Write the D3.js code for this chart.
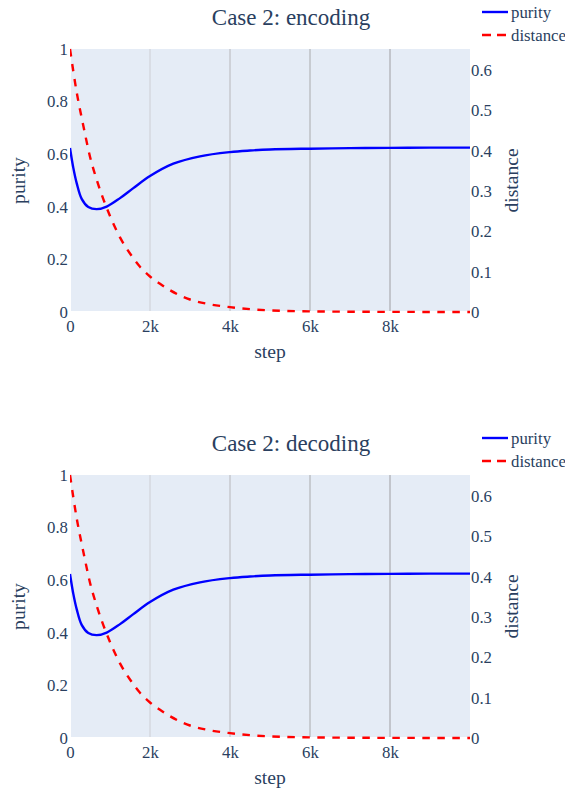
<!DOCTYPE html>
<html>
<head>
<meta charset="utf-8">
<script src="https://cdn.jsdelivr.net/npm/d3@7"></script>
<style>
  body { margin: 0; background: #fff; }
  text { font-family: "Liberation Serif", "DejaVu Serif", serif; fill: #2a3f5f; }
</style>
</head>
<body>
<div class="chart"></div>
<script>
// values
const purityStepsEnc = [0, 83, 167, 292, 458, 667, 917, 1250, 1583, 2000, 2583, 3250, 4000, 4500, 5000, 6000, 7000, 8000, 9000, 10000]
const purityEnc = [0.624, 0.548, 0.49, 0.43, 0.399, 0.391, 0.401, 0.433, 0.471, 0.517, 0.564, 0.592, 0.608, 0.614, 0.618, 0.621, 0.623, 0.624, 0.625, 0.625]
const distStepsEnc = [0, 167, 333, 500, 667, 833, 1000, 1250, 1500, 1750, 2000, 2250, 2500, 2750, 3000, 3500, 4000, 4500, 5000, 6000, 7000, 8000, 10000]
const distanceEnc = [0.652, 0.545, 0.462, 0.385, 0.328, 0.28, 0.238, 0.185, 0.145, 0.112, 0.088, 0.07, 0.054, 0.041, 0.031, 0.019, 0.012, 0.007, 0.004, 0.0015, 0.0007, 0.0003, 0.0001]

const purityStepsDec = [0, 83, 167, 292, 458, 667, 917, 1250, 1583, 2000, 2583, 3250, 4000, 4500, 5000, 6000, 7000, 8000, 9000, 10000]
const purityDec = [0.624, 0.548, 0.49, 0.43, 0.399, 0.391, 0.401, 0.433, 0.471, 0.517, 0.564, 0.592, 0.608, 0.614, 0.618, 0.621, 0.623, 0.624, 0.625, 0.625]
const distStepsDec = [0, 167, 333, 500, 667, 833, 1000, 1250, 1500, 1750, 2000, 2250, 2500, 2750, 3000, 3500, 4000, 4500, 5000, 6000, 7000, 8000, 10000]
const distanceDec = [0.652, 0.545, 0.462, 0.385, 0.328, 0.28, 0.238, 0.185, 0.145, 0.112, 0.088, 0.07, 0.054, 0.041, 0.031, 0.019, 0.012, 0.007, 0.004, 0.0015, 0.0007, 0.0003, 0.0001]

const xTicks = [0, 2000, 4000, 6000, 8000]
const xTickLabels = ["0", "2k", "4k", "6k", "8k"]
const purityTicks = [0, 0.2, 0.4, 0.6, 0.8, 1]
const purityTickLabels = ["0", "0.2", "0.4", "0.6", "0.8", "1"]
const distTicks = [0, 0.1, 0.2, 0.3, 0.4, 0.5, 0.6]
const distTickLabels = ["0", "0.1", "0.2", "0.3", "0.4", "0.5", "0.6"]
const seriesNames = ["purity", "distance"]

const svg = d3.select(".chart").append("svg")
    .attr("width", 565)
    .attr("height", 794)

renderPlot("Case 2: encoding", 0, purityStepsEnc, purityEnc, distStepsEnc, distanceEnc)
renderPlot("Case 2: decoding", 426, purityStepsDec, purityDec, distStepsDec, distanceDec)

function renderPlot(title, offset, pSteps, pVals, dSteps, dVals) {
    const left = 70, right = 470, top = 49, bottom = 312
    const g = svg.append("g")
        .attr("transform", "translate(0," + offset + ")")

    const xScale = d3.scaleLinear().domain([0, 10000]).range([left, right])
    const yScale = d3.scaleLinear().domain([0, 1]).range([bottom, top])
    const y2Scale = d3.scaleLinear().domain([0, 0.652]).range([bottom, top])

    g.append("rect")
        .attr("x", left).attr("y", top)
        .attr("width", right - left).attr("height", bottom - top)
        .attr("fill", "#e5ecf6")

    // vertical grid, each a bit darker to the right like the original
    const gridColors = ["none", "#d5d9df", "#c6c9ce", "#bdc0c5", "#b6b9be"]
    g.selectAll(".grid")
        .data(xTicks)
        .enter()
        .append("line")
        .attr("class", "grid")
        .attr("x1", d => xScale(d)).attr("x2", d => xScale(d))
        .attr("y1", top).attr("y2", bottom)
        .attr("stroke", (d, i) => gridColors[i])
        .attr("stroke-width", 1.5)

    // zero lines
    g.append("line")
        .attr("x1", left).attr("x2", right)
        .attr("y1", bottom).attr("y2", bottom)
        .attr("stroke", "#fff").attr("stroke-width", 2)
    g.append("line")
        .attr("x1", left).attr("x2", left)
        .attr("y1", top).attr("y2", bottom)
        .attr("stroke", "#fff").attr("stroke-width", 2)

    const xAxis = d3.axisBottom(xScale)
        .tickValues(xTicks)
        .tickFormat((d, i) => xTickLabels[i])
        .tickSize(0).tickPadding(8)
    const xg = g.append("g")
        .attr("transform", `translate(0, ${bottom})`)
        .call(xAxis)
    xg.select(".domain").remove()
    xg.selectAll("text").attr("font-size", "16.8px").attr("font-family", null)

    const yAxis = d3.axisLeft(yScale)
        .tickValues(purityTicks)
        .tickFormat((d, i) => purityTickLabels[i])
        .tickSize(0).tickPadding(2)
    const yg = g.append("g")
        .attr("transform", `translate(${left}, 0)`)
        .call(yAxis)
    yg.select(".domain").remove()
    yg.selectAll("text").attr("font-size", "16.8px").attr("font-family", null)

    const y2Axis = d3.axisRight(y2Scale)
        .tickValues(distTicks)
        .tickFormat((d, i) => distTickLabels[i])
        .tickSize(0).tickPadding(1)
    const y2g = g.append("g")
        .attr("transform", `translate(${right}, 0)`)
        .call(y2Axis)
    y2g.select(".domain").remove()
    y2g.selectAll("text").attr("font-size", "16.8px").attr("font-family", null)

    const clipId = "clip" + offset
    g.append("clipPath").attr("id", clipId)
        .append("rect")
        .attr("x", left).attr("y", top - 2)
        .attr("width", right - left).attr("height", bottom - top + 4)

    const purityLine = d3.line()
        .x((d, i) => xScale(pSteps[i]))
        .y(d => yScale(d))
        .curve(d3.curveCatmullRom.alpha(0.5))
    const distLine = d3.line()
        .x((d, i) => xScale(dSteps[i]))
        .y(d => y2Scale(d))
        .curve(d3.curveMonotoneX)

    g.append("path")
        .attr("clip-path", `url(#${clipId})`)
        .attr("d", purityLine(pVals))
        .attr("fill", "none")
        .attr("stroke", "#0000ff")
        .attr("stroke-width", 2.4)

    g.append("path")
        .attr("clip-path", `url(#${clipId})`)
        .attr("d", distLine(dVals))
        .attr("fill", "none")
        .attr("stroke", "#ff0000")
        .attr("stroke-width", 2.4)
        .attr("stroke-dasharray", "7.5,7.5")

    g.append("text")
        .attr("x", 291).attr("y", 25)
        .attr("text-anchor", "middle")
        .attr("font-size", "23px")
        .text(title)

    g.append("text")
        .attr("x", (left + right) / 2).attr("y", 358)
        .attr("text-anchor", "middle")
        .attr("font-size", "19.6px")
        .text("step")

    g.append("text")
        .attr("transform", `translate(25, ${(top + bottom) / 2}) rotate(-90)`)
        .attr("text-anchor", "middle")
        .attr("font-size", "19.6px")
        .text("purity")

    g.append("text")
        .attr("transform", `translate(518, ${(top + bottom) / 2}) rotate(-90)`)
        .attr("text-anchor", "middle")
        .attr("font-size", "19.6px")
        .text("distance")

    // legend
    const legend = g.selectAll(".key")
        .data(seriesNames)
        .enter()
        .append("g")
        .attr("class", "key")
        .attr("transform", (d, i) => `translate(482, ${12 + i * 23})`)
    legend.append("line")
        .attr("x1", 0).attr("x2", 26)
        .attr("stroke", (d, i) => i == 0 ? "#0000ff" : "#ff0000")
        .attr("stroke-width", 2.4)
        .attr("stroke-dasharray", (d, i) => i == 0 ? null : "9,6")
    legend.append("text")
        .attr("x", 29).attr("y", 6)
        .attr("font-size", "16.8px")
        .text(d => d)
}
</script>
</body>
</html>
